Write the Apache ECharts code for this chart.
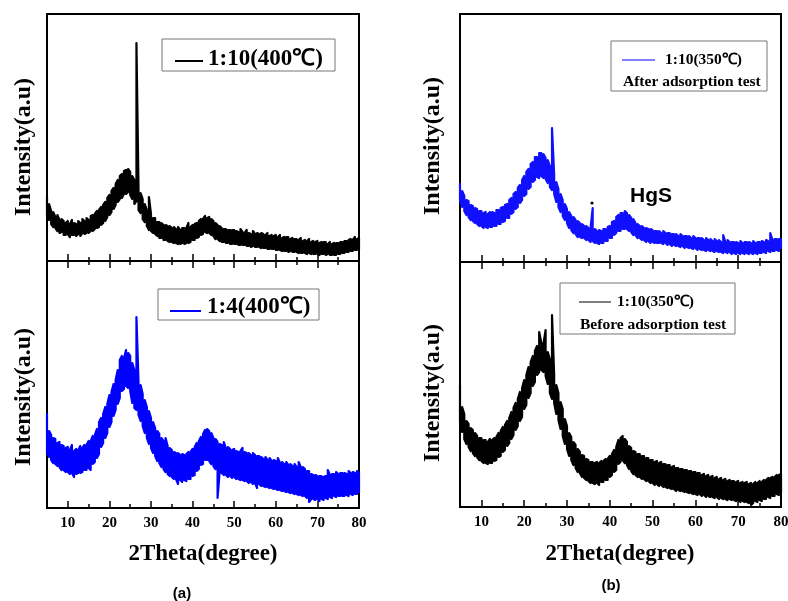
<!DOCTYPE html>
<html><head><meta charset="utf-8">
<script src="https://cdn.jsdelivr.net/npm/echarts@6/dist/echarts.min.js"></script>
<style>html,body{margin:0;padding:0;background:#fff}#c{width:788px;height:601px}</style>
</head><body><div id="c"></div>
<script>
// 2theta sampling positions (degrees)
const twoTheta = [
 5,5.5,6,6.5,7,7.5,8,8.5,9,9.5,
 10,10.5,11,11.5,12,12.5,13,13.5,14,14.5,
 15,15.5,16,16.5,17,17.5,18,18.5,19,19.5,
 20,20.5,21,21.5,22,22.5,23,23.5,24,24.5,
 25,25.5,26,26.5,27,27.5,28,28.5,29,29.5,
 30,30.5,31,31.5,32,32.5,33,33.5,34,34.5,
 35,35.5,36,36.5,37,37.5,38,38.5,39,39.5,
 40,40.5,41,41.5,42,42.5,43,43.5,44,44.5,
 45,45.5,46,46.5,47,47.5,48,48.5,49,49.5,
 50,50.5,51,51.5,52,52.5,53,53.5,54,54.5,
 55,55.5,56,56.5,57,57.5,58,58.5,59,59.5,
 60,60.5,61,61.5,62,62.5,63,63.5,64,64.5,
 65,65.5,66,66.5,67,67.5,68,68.5,69,69.5,
 70,70.5,71,71.5,72,72.5,73,73.5,74,74.5,
 75,75.5,76,76.5,77,77.5,78,78.5,79,79.5,
 80];
const tickMajor = [10,20,30,40,50,60,70,80];
const tickMinor = [15,25,35,45,55,65,75];

// Each noisy scan is kept as the upper and lower edge of its noise band.
// (a) top: 1:10 (400℃), black
const a1Upper = [
 64,57,50,49,44,46,41,42,40,38,
 40,37,41,38,37,40,38,42,40,43,
 41,45,46,47,50,51,54,56,59,63,
 66,70,73,77,81,85,87,90,91,92,
 89,85,81,218,73,68,62,57,51,64,
 47,43,43,39,39,38,36,36,35,35,
 33,34,32,34,31,33,33,33,38,34,
 36,37,38,40,42,42,45,43,44,42,
 40,38,36,35,33,32,32,31,31,31,
 31,30,29,32,29,28,31,28,27,30,
 27,28,27,28,27,26,28,25,26,25,
 26,24,26,23,24,24,24,22,23,22,
 22,21,23,20,21,20,22,19,20,19,
 20,18,19,19,19,17,19,17,18,18,
 18,19,19,20,20,21,22,21,24,22,
 23];
const a1Lower = [
 46,41,37,34,33,30,28,29,26,26,
 27,24,26,26,25,27,25,28,27,28,
 28,30,30,32,33,34,36,38,40,44,
 46,49,52,56,59,62,63,67,67,69,
 66,62,57,60,51,48,42,39,35,31,
 30,28,27,25,23,23,21,21,20,19,
 19,18,18,17,17,18,17,18,18,19,
 21,21,23,24,26,27,29,28,28,26,
 25,22,22,20,19,19,18,18,17,17,
 17,17,16,16,16,16,15,15,14,15,
 14,14,14,13,13,13,12,12,12,12,
 11,11,11,10,10,10,9,10,9,9,
 9,8,8,8,8,7,8,7,7,7,
 7,6,7,7,6,7,6,6,6,6,
 7,7,8,8,9,9,10,10,11,11,
 12];
// (a) bottom: 1:4 (400℃), blue
const a2Upper = [
 95,77,73,70,69,65,66,63,62,60,
 61,58,63,57,59,58,62,60,63,63,
 67,67,72,73,79,86,90,94,101,104,
 113,116,124,128,138,148,152,150,158,155,
 152,145,138,191,126,123,114,108,101,97,
 90,86,80,77,74,70,67,70,62,60,
 58,56,55,55,53,54,53,54,56,56,
 59,61,65,67,71,74,78,79,77,75,
 70,69,66,64,63,66,60,61,59,58,
 59,57,56,57,60,56,55,55,53,55,
 53,52,52,51,49,51,48,50,47,48,
 47,50,45,46,44,46,43,44,42,44,
 41,46,41,41,39,37,37,34,33,33,
 32,32,32,31,32,38,33,34,34,36,
 34,35,35,35,34,37,35,36,35,37,
 35];
const a2Lower = [
 55,51,48,45,44,42,41,38,38,36,
 36,34,35,31,34,35,35,36,38,38,
 40,38,44,46,50,54,61,65,70,75,
 81,86,92,98,104,110,117,119,122,120,
 117,105,100,98,93,87,82,75,70,64,
 60,55,52,47,45,41,39,36,34,32,
 31,29,29,24,28,26,28,27,29,29,
 32,33,37,39,43,44,48,48,47,44,
 42,39,10,36,35,33,33,31,32,30,
 31,29,29,28,28,27,27,25,26,24,
 25,20,24,22,22,21,21,20,20,19,
 19,18,18,17,17,16,16,15,15,14,
 14,13,13,12,12,10,6,9,9,8,
 9,7,9,8,10,9,11,10,12,11,
 12,12,12,12,13,12,14,13,14,14,
 15];
// (b) top: 1:10 (350℃) after adsorption test, blue
const b1Upper = [
 79,71,66,62,61,57,56,54,53,51,
 51,49,50,48,50,50,49,52,52,54,
 55,57,58,62,64,68,70,74,77,82,
 86,90,93,98,100,105,105,109,109,108,
 104,102,96,134,87,80,73,68,62,58,
 53,50,46,45,42,41,39,38,36,36,
 34,34,54,33,31,32,31,33,33,35,
 36,40,41,45,47,49,49,51,49,47,
 44,43,39,38,36,36,34,34,33,33,
 32,31,31,31,29,31,29,29,29,28,
 28,28,26,28,26,26,26,26,24,26,
 24,24,24,24,22,24,22,23,21,23,
 21,22,20,27,20,22,20,20,20,20,
 19,21,19,20,20,20,19,21,19,20,
 20,21,20,22,21,29,22,23,23,23,
 23];
const b1Lower = [
 62,55,51,47,45,42,41,39,38,36,
 36,34,35,34,35,35,36,36,38,38,
 40,41,44,44,48,50,53,55,59,62,
 66,68,73,75,80,82,85,84,86,84,
 83,79,75,72,68,60,55,50,46,42,
 39,34,32,29,28,25,25,24,24,22,
 22,20,21,19,19,18,19,19,21,21,
 24,24,27,29,31,31,33,33,33,31,
 30,27,27,24,24,22,22,20,21,19,
 20,19,19,19,19,18,19,17,18,16,
 17,16,16,15,16,14,15,14,14,13,
 14,12,13,12,12,11,12,11,11,10,
 11,10,10,9,10,9,10,8,9,8,
 9,8,9,8,9,8,9,8,9,8,
 9,9,10,9,11,10,11,11,12,11,
 13];
// (b) bottom: 1:10 (350℃) before adsorption test, black
const b2Upper = [
 122,100,93,86,83,79,77,74,71,69,
 69,67,67,65,68,67,69,70,74,76,
 80,82,86,89,95,99,104,108,115,119,
 127,132,140,145,151,156,161,175,164,163,
 177,155,148,192,132,122,114,105,98,88,
 81,74,70,65,62,58,55,52,51,48,
 47,45,45,44,45,44,46,46,48,48,
 51,53,57,60,67,69,71,68,65,61,
 59,56,55,53,53,51,51,49,49,47,
 47,45,46,44,45,43,43,42,42,40,
 41,39,39,38,38,37,37,36,36,35,
 35,34,34,32,33,31,32,30,31,29,
 30,28,29,27,28,26,27,26,26,25,
 26,24,25,24,25,23,24,23,25,24,
 26,25,27,27,29,29,30,30,32,32,
 33];
const b2Lower = [
 85,75,68,63,60,56,54,51,50,47,
 46,44,44,43,44,44,46,47,50,51,
 55,57,61,64,68,72,77,81,86,90,
 98,102,109,114,121,125,132,135,137,135,
 131,123,114,108,104,93,87,78,71,63,
 58,51,47,42,39,35,34,30,29,27,
 26,24,24,23,24,22,25,25,27,27,
 30,32,35,37,43,45,47,44,42,38,
 36,33,32,30,30,28,28,26,26,24,
 24,22,23,21,22,20,20,19,19,18,
 18,16,17,16,16,15,15,14,14,13,
 13,12,13,11,12,10,11,10,10,9,
 10,8,9,8,8,7,8,7,7,6,
 7,5,6,5,5,4,2,4,6,5,
 7,6,8,8,10,9,11,11,13,12,
 14];

const seriesNames = ['1:10(400℃)','1:4(400℃)','1:10(350℃) After adsorption test','1:10(350℃) Before adsorption test'];
const yTitle = 'Intensity(a.u)';
const xTitle = '2Theta(degree)';

const chart = echarts.init(document.getElementById('c'), null, {renderer:'canvas'});
const SERIF = "'Liberation Serif','Times New Roman',serif";
const SANS = "'Liberation Sans',Arial,sans-serif";

const grids = [
 {left:47, top:14, width:312, height:247},
 {left:47, top:261, width:312, height:247},
 {left:460, top:14, width:321, height:248},
 {left:460, top:262, width:321, height:245}
].map(g => Object.assign(g, {show:true, borderColor:'#000', borderWidth:2,
   backgroundColor:'transparent', containLabel:false, outerBoundsMode:'none'}));
const yMax = [247,247,248,245];

function xAx(g, pos, vals, len, labels){
  return {type:'value', gridIndex:g, position:pos, min:5, max:80,
    axisLine:{show:false}, splitLine:{show:false},
    axisTick:{show:true, inside:true, length:len, customValues:vals, lineStyle:{color:'#000', width:1.5}},
    axisLabel:{show:labels, customValues:vals, margin:8, color:'#000',
      fontFamily:SERIF, fontWeight:'bold', fontSize:15}};
}
const xAxes = [
  xAx(0,'bottom',tickMajor,7,false), xAx(0,'bottom',tickMinor,4,false),
  xAx(1,'bottom',tickMajor,7,true),  xAx(1,'bottom',tickMinor,4,false),
  xAx(1,'top',tickMajor,7,false),    xAx(1,'top',tickMinor,4,false),
  xAx(2,'bottom',tickMajor,7,false), xAx(2,'bottom',tickMinor,4,false),
  xAx(3,'bottom',tickMajor,7,true),  xAx(3,'bottom',tickMinor,4,false),
  xAx(3,'top',tickMajor,7,false),    xAx(3,'top',tickMinor,4,false)
];
const yAxes = yMax.map((m,i)=>({type:'value', gridIndex:i, min:0, max:m, show:false}));

// trace the noise band: a vertical stroke at every sample, joined along the band edges
function band(up, lo){
  const d = [];
  twoTheta.forEach((x,i)=>{
    if (i % 2 === 0) { d.push([x, up[i]], [x, lo[i]]); }
    else { d.push([x, lo[i]], [x, up[i]]); }
  });
  return d;
}
function ser(name, xi, yi, up, lo, color){
  return {name:name, type:'line', xAxisIndex:xi, yAxisIndex:yi, data:band(up, lo),
    showSymbol:false, symbol:'none', sampling:null, animation:false,
    lineStyle:{color:color, width:2.2, join:'round'}, itemStyle:{color:color}};
}

const txt = (x,y,t,font,opt)=>Object.assign({type:'text', x:x, y:y, z:10,
  style:Object.assign({text:t, font:font, fill:'#000', textAlign:'left', textVerticalAlign:'middle'}, opt||{})});
const graphics = [
  Object.assign(txt(24,147,yTitle,'bold 24px '+SERIF,{textAlign:'center'}),{rotation:Math.PI/2}),
  Object.assign(txt(24,397,yTitle,'bold 24px '+SERIF,{textAlign:'center'}),{rotation:Math.PI/2}),
  Object.assign(txt(433,146,yTitle,'bold 24px '+SERIF,{textAlign:'center'}),{rotation:Math.PI/2}),
  Object.assign(txt(433,393,yTitle,'bold 24px '+SERIF,{textAlign:'center'}),{rotation:Math.PI/2}),
  txt(203,554,xTitle,'bold 23px '+SERIF,{textAlign:'center'}),
  txt(620,554,xTitle,'bold 23px '+SERIF,{textAlign:'center'}),
  txt(182,594,'(a)','bold 15px '+SANS,{textAlign:'center'}),
  txt(611,586,'(b)','bold 15px '+SANS,{textAlign:'center'}),
  {type:'rect', z:10, shape:{x:162,y:39,width:173,height:32}, style:{fill:'#fff', stroke:'#777', lineWidth:1}},
  {type:'line', z:11, shape:{x1:175,y1:61,x2:203,y2:61}, style:{stroke:'#000', lineWidth:2}},
  txt(208,59,seriesNames[0],'bold 23px '+SERIF),
  {type:'rect', z:10, shape:{x:158,y:289,width:161,height:31}, style:{fill:'#fff', stroke:'#777', lineWidth:1}},
  {type:'line', z:11, shape:{x1:170,y1:311,x2:201,y2:311}, style:{stroke:'#0000ff', lineWidth:2}},
  txt(207,307,seriesNames[1],'bold 23px '+SERIF),
  {type:'rect', z:10, shape:{x:611,y:41,width:156,height:50}, style:{fill:'#fff', stroke:'#777', lineWidth:1}},
  {type:'line', z:11, shape:{x1:622,y1:60,x2:655,y2:60}, style:{stroke:'#0000ff', lineWidth:1}},
  txt(665,60,'1:10(350℃)','bold 15.5px '+SERIF),
  txt(623,82,'After adsorption test','bold 15.5px '+SERIF),
  {type:'rect', z:10, shape:{x:560,y:283,width:175,height:51}, style:{fill:'#fff', stroke:'#777', lineWidth:1}},
  {type:'line', z:11, shape:{x1:579,y1:302,x2:611,y2:302}, style:{stroke:'#000', lineWidth:1}},
  txt(617,302,'1:10(350℃)','bold 15.5px '+SERIF),
  txt(580,325,'Before adsorption test','bold 15.5px '+SERIF),
  txt(651,196,'HgS','bold 21px '+SANS,{textAlign:'center'}),
  {type:'circle', z:10, shape:{cx:592,cy:203,r:1.6}, style:{fill:'#000'}}
];

chart.setOption({
  animation:false,
  backgroundColor:'#fff',
  grid:grids,
  xAxis:xAxes,
  yAxis:yAxes,
  series:[
    ser(seriesNames[0],0,0,a1Upper,a1Lower,'#000000'),
    ser(seriesNames[1],2,1,a2Upper,a2Lower,'#0000ff'),
    ser(seriesNames[2],6,2,b1Upper,b1Lower,'#1010ff'),
    ser(seriesNames[3],8,3,b2Upper,b2Lower,'#000000')
  ],
  graphic:graphics
});
</script></body></html>
